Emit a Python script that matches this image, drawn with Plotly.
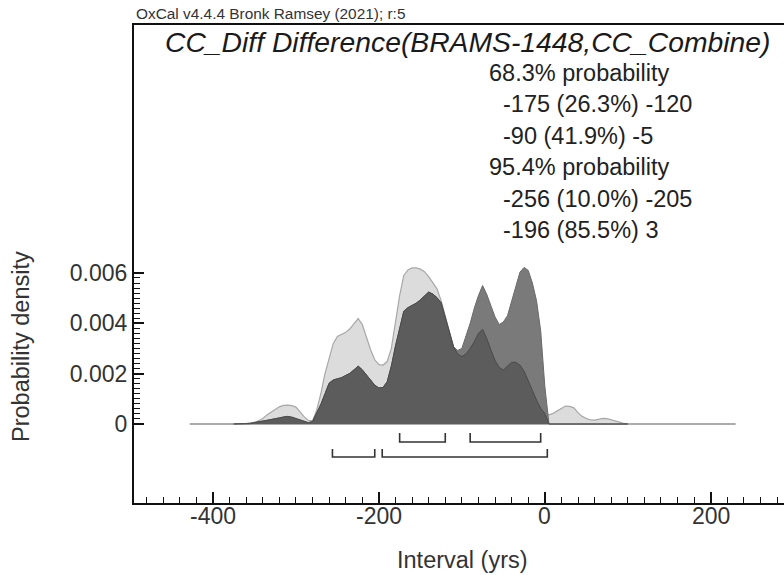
import numpy as np
import plotly.graph_objects as go

# ---------------- data ----------------
interval_yrs = [-375, -370, -365, -360, -355, -350, -345, -340, -335, -330,
                -325, -320, -315, -310, -305, -300, -295, -290, -285, -280,
                -275, -270, -265, -260, -255, -250, -245, -240, -235, -230,
                -225, -220, -215, -210, -205, -200, -195, -190, -185, -180,
                -175, -170, -165, -160, -155, -150, -145, -140, -135, -130,
                -125, -120, -115, -110, -105, -100, -95, -90, -85, -80,
                -75, -70, -65, -60, -55, -50, -45, -40, -35, -30,
                -25, -20, -15, -10, -5, 0, 5, 10, 15, 20,
                25, 30, 35, 40, 45, 50, 55, 60, 65, 70,
                75, 80, 85, 90, 95, 100]

# probability density x 1000 (unmodelled / likelihood, light grey)
prior_density_e3 = [0, 0, 0, 0, 0.01, 0.05, 0.12, 0.22, 0.36, 0.46,
                    0.58, 0.68, 0.74, 0.75, 0.73, 0.67, 0.48, 0.28, 0.14, 0.12,
                    0.55, 1.2, 2.0, 2.6, 3.2, 3.48, 3.56, 3.64, 3.78, 3.98,
                    4.19, 3.95, 3.45, 2.95, 2.55, 2.36, 2.34, 2.48, 3.0, 4.1,
                    5.1, 5.9, 6.12, 6.2, 6.2, 6.15, 6.05, 5.85, 5.62, 5.37,
                    4.9, 4.25, 3.6, 3.06, 2.78, 2.68, 2.78, 3.0, 3.27, 3.6,
                    3.76, 3.4, 2.95, 2.52, 2.25, 2.14, 2.3, 2.45, 2.45, 2.34,
                    2.1, 1.72, 1.3, 0.95, 0.62, 0.42, 0.36, 0.42, 0.52, 0.63,
                    0.71, 0.70, 0.64, 0.45, 0.3, 0.22, 0.16, 0.15, 0.18, 0.22,
                    0.21, 0.17, 0.12, 0.07, 0.02, 0]

# probability density x 1000 (modelled / posterior, dark grey)
posterior_density_e3 = [0, 0, 0.01, 0.02, 0.04, 0.06, 0.08, 0.1, 0.13, 0.17,
                        0.21, 0.24, 0.28, 0.30, 0.27, 0.21, 0.14, 0.08, 0.05, 0.10,
                        0.45, 0.78, 1.2, 1.62, 1.75, 1.79, 1.84, 1.93, 2.01, 2.15,
                        2.30, 2.15, 1.94, 1.72, 1.54, 1.43, 1.45, 1.68, 2.3, 3.1,
                        3.85, 4.48, 4.62, 4.70, 4.80, 4.93, 5.1, 5.24, 5.16, 5.02,
                        4.82, 4.25, 3.6, 3.06, 2.92, 3.0, 3.5, 4.0, 4.6, 5.1,
                        5.5, 5.15, 4.7, 4.25, 3.95, 4.05, 4.3, 4.85, 5.4, 6.03,
                        6.22, 6.1, 5.6, 4.9, 3.7, 1.5, 0, 0, 0, 0,
                        0, 0, 0, 0, 0, 0, 0, 0, 0, 0,
                        0, 0, 0, 0, 0, 0]

baseline_extent = [-428, 230]
range_68 = [(-175, -120), (-90, -5)]
range_95 = [(-256, -205), (-196, 3)]

x_major_ticks = [-400, -200, 0, 200]
x_tick_labels = ["-400", "-200", "0", "200"]
y_major_ticks = [0, 0.002, 0.004, 0.006]
y_tick_labels = ["0", "0.002", "0.004", "0.006"]

header_text = "OxCal v4.4.4 Bronk Ramsey (2021); r:5"
title_text = "CC_Diff Difference(BRAMS-1448,CC_Combine)"
summary_lines = ["68.3% probability",
                 "  -175 (26.3%) -120",
                 "  -90 (41.9%) -5",
                 "95.4% probability",
                 "  -256 (10.0%) -205",
                 "  -196 (85.5%) 3"]
x_title = "Interval (yrs)"
y_title = "Probability density"

# ---------------- layout geometry ----------------
W, H = 784, 575
L, R, T, B = 134, 0, 25, 72
PW, PH = W - L - R, H - T - B
X_RANGE = [-495.2, 288.3]
Y_RANGE = [-0.00314, 0.01585]


def px_x(p):
    return (p - L) / PW


def px_y(p):
    return (H - B - p) / PH


x = np.array(interval_yrs, dtype=float)
prior = np.array(prior_density_e3) * 1e-3
post = np.array(posterior_density_e3) * 1e-3
overlap = np.minimum(prior, post)

FONT = "Liberation Sans, Arial, sans-serif"
fig = go.Figure()

# baseline
fig.add_trace(go.Scatter(x=baseline_extent, y=[0, 0], mode="lines",
                         line=dict(color="#8f8f8f", width=1.6),
                         hoverinfo="skip", showlegend=False))
# likelihood (light)
fig.add_trace(go.Scatter(x=x, y=prior, mode="lines", fill="tozeroy",
                         fillcolor="#dcdcdc",
                         line=dict(color="#a8a8a8", width=1.2),
                         hoverinfo="skip", showlegend=False))
# posterior (dark)
fig.add_trace(go.Scatter(x=x, y=post, mode="lines", fill="tozeroy",
                         fillcolor="#7a7a7a",
                         line=dict(color="#6a6a6a", width=1),
                         hoverinfo="skip", showlegend=False))
# overlap (darker)
fig.add_trace(go.Scatter(x=x, y=overlap, mode="lines", fill="tozeroy",
                         fillcolor="#5c5c5c",
                         line=dict(color="#4a4a4a", width=1),
                         hoverinfo="skip", showlegend=False))


# range brackets
def bracket_xy(ranges, y_line, y_end):
    bx, by = [], []
    for a, b in ranges:
        bx += [a, a, b, b, None]
        by += [y_end, y_line, y_line, y_end, None]
    return bx, by


for ranges, yl, ye in [(range_68, -0.000715, -0.000358),
                       (range_95, -0.00131, -0.000993)]:
    bx, by = bracket_xy(ranges, yl, ye)
    fig.add_trace(go.Scatter(x=bx, y=by, mode="lines",
                             line=dict(color="#333333", width=1.6),
                             hoverinfo="skip", showlegend=False))

annotations = []
annotations.append(dict(text=header_text, x=px_x(134), y=px_y(13),
                        xref="paper", yref="paper", xanchor="left",
                        yanchor="middle", showarrow=False,
                        font=dict(family=FONT, size=15.4, color="#333333")))
annotations.append(dict(text="<i>" + title_text + "</i>", x=px_x(163),
                        y=px_y(42), xref="paper", yref="paper",
                        xanchor="left", yanchor="middle", showarrow=False,
                        font=dict(family=FONT, size=28.3, color="#1a1a1a")))
line_y = [73, 104, 136, 167, 199, 230]
for txt, yy in zip(summary_lines, line_y):
    indent = txt.startswith("  ")
    annotations.append(dict(text=txt.strip(), x=px_x(501 if indent else 487),
                            y=px_y(yy), xref="paper", yref="paper",
                            xanchor="left", yanchor="middle", showarrow=False,
                            font=dict(family=FONT, size=23.5, color="#222222")))
# x tick labels
for v, lab in zip(x_major_ticks, x_tick_labels):
    annotations.append(dict(text=lab, x=v, y=px_y(516), xref="x",
                            yref="paper", xanchor="center", yanchor="middle",
                            showarrow=False,
                            font=dict(family=FONT, size=23, color="#333333")))
annotations.append(dict(text=x_title, x=px_x(462), y=px_y(560),
                        xref="paper", yref="paper", xanchor="center",
                        yanchor="middle", showarrow=False,
                        font=dict(family=FONT, size=23.5, color="#333333")))
annotations.append(dict(text=y_title, x=px_x(21), y=px_y(347),
                        xref="paper", yref="paper", xanchor="center",
                        yanchor="middle", showarrow=False, textangle=-90,
                        font=dict(family=FONT, size=23.5, color="#333333")))

y_minor = [round(v * 0.0002, 6) for v in range(0, 31)]

fig.update_layout(
    width=W, height=H,
    margin=dict(l=L, r=R, t=T, b=B, pad=0),
    paper_bgcolor="white", plot_bgcolor="white",
    showlegend=False,
    annotations=annotations,
    xaxis=dict(range=X_RANGE, showgrid=False, zeroline=False,
               showline=True, linecolor="#111111", linewidth=2, mirror=True,
               ticks="inside", ticklen=11, tickwidth=1.5, tickcolor="#111111",
               tickmode="array", tickvals=x_major_ticks, showticklabels=False,
               minor=dict(ticks="inside", ticklen=6, tickwidth=1.2,
                          tickcolor="#111111", dtick=20, tick0=0,
                          showgrid=False)),
    yaxis=dict(range=Y_RANGE, showgrid=False, zeroline=False,
               showline=True, linecolor="#111111", linewidth=2,
               ticks="inside", ticklen=10, tickwidth=1.5, tickcolor="#111111",
               tickmode="array", tickvals=y_major_ticks, ticktext=y_tick_labels,
               tickfont=dict(family=FONT, size=23, color="#333333"),
               minor=dict(ticks="inside", ticklen=6, tickwidth=1,
                          tickcolor="#111111", tickmode="array",
                          tickvals=y_minor, showgrid=False)),
)

fig.write_html("out.html",
               config={"displayModeBar": False},
               post_script="document.body.style.margin='0';")
